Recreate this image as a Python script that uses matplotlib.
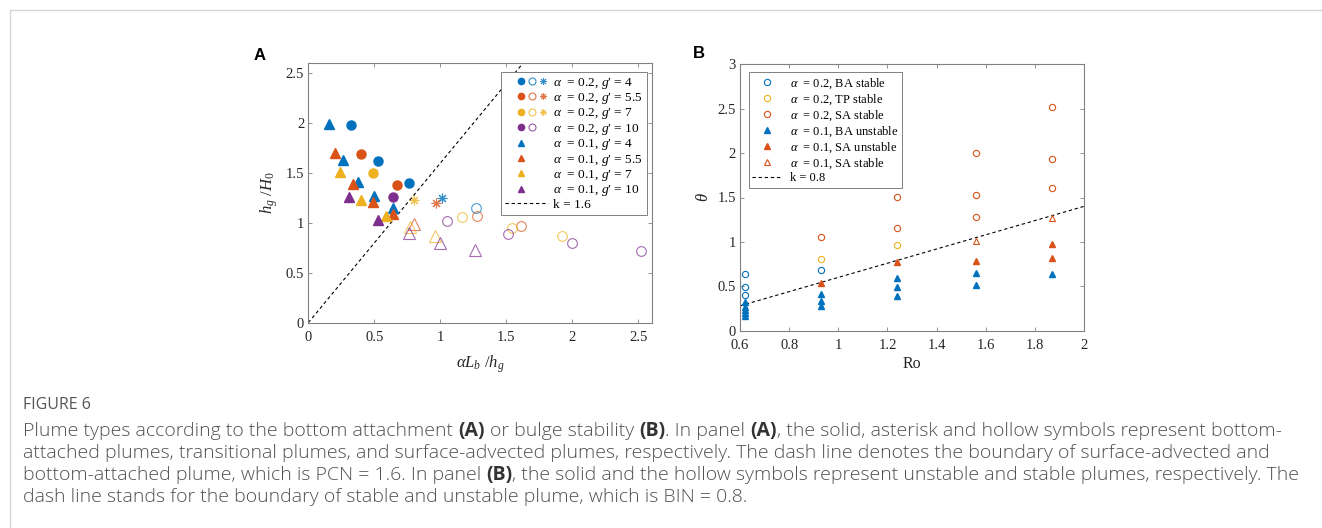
import matplotlib
matplotlib.use('Agg')
import matplotlib.pyplot as plt
import numpy as np
from matplotlib.lines import Line2D
from matplotlib.legend_handler import HandlerTuple
from matplotlib.ticker import FormatStrFormatter, MultipleLocator

# ---- panel A data (alpha*Lb/hg, hg/H0), one list per g' ----
g_labels = ['4', '5.5', '7', '10']
a02_bottom_x = [[0.32, 0.53, 0.76], [0.40, 0.67], [0.49], [0.64]]
a02_bottom_y = [[1.98, 1.62, 1.40], [1.69, 1.38], [1.50], [1.26]]
a02_trans_x = [[1.01], [0.97], [0.80], []]
a02_trans_y = [[1.25], [1.20], [1.23], []]
a02_surface_x = [[1.27], [1.28, 1.61], [1.16, 1.54, 1.92], [1.05, 1.51, 2.00, 2.52]]
a02_surface_y = [[1.15], [1.07, 0.97], [1.06, 0.95, 0.87], [1.02, 0.89, 0.80, 0.72]]
a01_bottom_x = [[0.16, 0.26, 0.38, 0.50, 0.64], [0.20, 0.34, 0.49, 0.64], [0.24, 0.40, 0.59], [0.31, 0.53]]
a01_bottom_y = [[1.99, 1.63, 1.41, 1.27, 1.15], [1.70, 1.39, 1.21, 1.09], [1.51, 1.23, 1.07], [1.26, 1.03]]
a01_surface_x = [[], [0.80], [0.77, 0.96], [0.76, 1.00, 1.26]]
a01_surface_y = [[], [0.99], [0.96, 0.87], [0.90, 0.80, 0.73]]
k_a = 1.6

# ---- panel B data (Ro, theta) ----
ba_stable_x = [0.62, 0.62, 0.62, 0.93]
ba_stable_y = [0.635, 0.49, 0.40, 0.68]
tp_stable_x = [0.93, 1.24]
tp_stable_y = [0.81, 0.965]
sa_stable02_x = [0.93, 1.24, 1.24, 1.56, 1.56, 1.56, 1.87, 1.87, 1.87]
sa_stable02_y = [1.055, 1.51, 1.16, 2.00, 1.53, 1.28, 2.52, 1.93, 1.61]
ba_unstable_x = [0.62, 0.62, 0.62, 0.62, 0.62, 0.93, 0.93, 0.93, 1.24, 1.24, 1.24, 1.56, 1.56, 1.87]
ba_unstable_y = [0.32, 0.27, 0.23, 0.20, 0.17, 0.41, 0.34, 0.28, 0.59, 0.49, 0.39, 0.65, 0.51, 0.64]
sa_unstable_x = [0.93, 1.24, 1.56, 1.87, 1.87]
sa_unstable_y = [0.535, 0.77, 0.78, 0.975, 0.815]
sa_stable01_x = [1.56, 1.87]
sa_stable01_y = [1.01, 1.27]
k_b = 0.8
b_offset = -0.2

colors = ['#0072BD', '#D95319', '#EDB120', '#7E2F8E']

plt.rcParams['font.family'] = ['Liberation Serif', 'DejaVu Serif']
plt.rcParams['mathtext.fontset'] = 'custom'
plt.rcParams['mathtext.rm'] = 'Liberation Serif'
plt.rcParams['mathtext.it'] = 'Liberation Serif:italic'
plt.rcParams['mathtext.bf'] = 'Liberation Serif:bold'

W, H = 1322, 528
fig = plt.figure(figsize=(W / 100, H / 100), dpi=100)

spine_c = '#808080'
text_c = '#262626'


def style_axes(ax):
    for s in ax.spines.values():
        s.set_color(spine_c)
        s.set_linewidth(0.8)
    ax.tick_params(direction='in', top=True, right=True, length=3, width=0.6,
                   color=spine_c, labelcolor=text_c, labelsize=10.5)
    ax.tick_params(axis='x', pad=6)
    ax.tick_params(axis='y', pad=3)
    ax.xaxis.set_major_formatter(FormatStrFormatter('%g'))
    ax.yaxis.set_major_formatter(FormatStrFormatter('%g'))


# ================= panel A =================
axA = fig.add_axes([308.3 / W, 1 - 322.7 / H, 343.4 / W, 259.4 / H])
blank = Line2D([], [], linestyle='none')
handlesA, labelsA = [], []
for i, c in enumerate(colors):
    axA.plot(a02_bottom_x[i], a02_bottom_y[i], 'o', color=c, ms=6.5, mec=c, zorder=3)
    axA.plot(a02_surface_x[i], a02_surface_y[i], 'o', mfc='none', mec=c, ms=7, mew=0.8, alpha=0.7)
    axA.plot(a02_trans_x[i], a02_trans_y[i], marker=(8, 2, 0), ls='none', color=c, ms=7, mew=0.8, alpha=0.8)
    axA.plot(a01_bottom_x[i], a01_bottom_y[i], '^', color=c, ms=7.5, mec=c, zorder=3)
    axA.plot(a01_surface_x[i], a01_surface_y[i], '^', mfc='none', mec=c, ms=8, mew=0.8, alpha=0.7)

xk = np.array([0, 2.6])
axA.plot(xk, k_a * xk, '--', color='k', lw=0.8, dashes=(3, 2.5))

for i, c in enumerate(colors):
    solid = Line2D([], [], marker='o', ls='none', color=c, ms=4.5)
    hollow = Line2D([], [], marker='o', ls='none', mfc='none', mec=c, ms=5, mew=0.8, alpha=0.8)
    star = Line2D([], [], marker=(8, 2, 0), ls='none', color=c, ms=5, mew=0.7, alpha=0.8)
    if a02_trans_x[i]:
        handlesA.append((blank, solid, hollow, star))
    else:
        handlesA.append((blank, solid, hollow, blank))
    labelsA.append(r'$\alpha$  = 0.2, $g$′ = ' + g_labels[i])
for i, c in enumerate(colors):
    tri = Line2D([], [], marker='^', ls='none', color=c, ms=5)
    handlesA.append((blank, tri, blank, blank))
    labelsA.append(r'$\alpha$  = 0.1, $g$′ = ' + g_labels[i])
handlesA.append(Line2D([], [], ls='--', color='k', lw=0.8, dashes=(3, 2.5)))
labelsA.append('k = 1.6')

legA = axA.legend(handlesA, labelsA, handler_map={tuple: HandlerTuple(ndivide=None, pad=0)},
                  loc='upper right', bbox_to_anchor=(0.985, 0.968), borderaxespad=0,
                  fontsize=9.6, handlelength=3.2, handletextpad=0.35, labelspacing=0.03,
                  borderpad=0.3, fancybox=False, framealpha=1, edgecolor=spine_c)
legA.get_frame().set_linewidth(0.7)

axA.set_xlim(0, 2.6)
axA.set_ylim(0, 2.6)
axA.xaxis.set_major_locator(MultipleLocator(0.5))
axA.yaxis.set_major_locator(MultipleLocator(0.5))
style_axes(axA)
axA.set_xlabel(r'$\alpha L_b\ /h_g$', fontsize=12, color=text_c, labelpad=7)
axA.set_ylabel(r'$h_g\ /H_0$', fontsize=12, color=text_c, labelpad=4)

# ================= panel B =================
axB = fig.add_axes([740 / W, 1 - 330.7 / H, 344 / W, 266.4 / H])
axB.plot(ba_unstable_x, ba_unstable_y, '^', color=colors[0], ms=5, label=r'$\alpha$  = 0.1, BA unstable', zorder=3)
axB.plot(sa_unstable_x, sa_unstable_y, '^', color=colors[1], ms=5, label=r'$\alpha$  = 0.1, SA unstable', zorder=3)
axB.plot(sa_stable01_x, sa_stable01_y, '^', mfc='none', mec=colors[1], ms=5, mew=0.8,
         label=r'$\alpha$  = 0.1, SA stable', zorder=3)
axB.plot(ba_stable_x, ba_stable_y, 'o', mfc='none', mec=colors[0], ms=4.5, mew=0.8,
         label=r'$\alpha$  = 0.2, BA stable')
axB.plot(tp_stable_x, tp_stable_y, 'o', mfc='none', mec=colors[2], ms=4.5, mew=0.8,
         label=r'$\alpha$  = 0.2, TP stable')
axB.plot(sa_stable02_x, sa_stable02_y, 'o', mfc='none', mec=colors[1], ms=4.5, mew=0.8,
         label=r'$\alpha$  = 0.2, SA stable')
xr = np.array([0.6, 2.0])
axB.plot(xr, k_b * xr + b_offset, '--', color='k', lw=0.8, dashes=(3, 2.5), label='k = 0.8')

h, l = axB.get_legend_handles_labels()
order = [3, 4, 5, 0, 1, 2, 6]
legB = axB.legend([h[j] for j in order], [l[j] for j in order],
                  loc='upper left', bbox_to_anchor=(0.025, 0.97), borderaxespad=0,
                  fontsize=9, handlelength=2.3, handletextpad=0.7, labelspacing=0.12,
                  borderpad=0.3, fancybox=False, framealpha=1, edgecolor=spine_c)
legB.get_frame().set_linewidth(0.7)

axB.set_xlim(0.6, 2.0)
axB.set_ylim(0, 3)
axB.xaxis.set_major_locator(MultipleLocator(0.2))
axB.yaxis.set_major_locator(MultipleLocator(0.5))
style_axes(axB)
axB.set_xlabel('Ro', fontsize=11.5, color=text_c, labelpad=3)
axB.set_ylabel(r'$\theta$', fontsize=12, color=text_c, labelpad=4)

# panel letters
fig.text(260 / W, 1 - 55 / H, 'A', family='Liberation Sans', weight='bold', fontsize=12,
         ha='center', va='center')
fig.text(699 / W, 1 - 54 / H, 'B', family='Liberation Sans', weight='bold', fontsize=12,
         ha='center', va='center')

# outer frame lines
fig.add_artist(Line2D([10 / W, 10 / W], [0, 1 - 10 / H], transform=fig.transFigure, color='#d6d6d6', lw=1))
fig.add_artist(Line2D([10 / W, 1], [1 - 10 / H, 1 - 10 / H], transform=fig.transFigure, color='#d6d6d6', lw=1))

# ================= caption =================
renderer = fig.canvas.get_renderer()
cap_font = 'Open Sans'
cap_color = '#505050'

caption_lines = [
    'Plume types according to the bottom attachment **(A)** or bulge stability **(B)**. In panel **(A)**, '
    'the solid, asterisk and hollow symbols represent bottom-',
    'attached plumes, transitional plumes, and surface-advected plumes, respectively. The dash line denotes '
    'the boundary of surface-advected and',
    'bottom-attached plume, which is PCN = 1.6. In panel **(B)**, the solid and the hollow symbols represent '
    'unstable and stable plumes, respectively. The',
    'dash line stands for the boundary of stable and unstable plume, which is BIN = 0.8.',
]
baselines = [436, 458, 480, 502]


def text_w(s, size, weight='light'):
    t = fig.text(0, 0, s, family=cap_font, fontsize=size, weight=weight)
    w = t.get_window_extent(renderer).width
    t.remove()
    return w


def rich_line(x, y, line, size, draw=True):
    sp = text_w('a a', size) - text_w('aa', size)
    x0 = x
    for i, part in enumerate(line.split('**')):
        if not part:
            continue
        weight = 'bold' if i % 2 else 'light'
        lead = len(part) - len(part.lstrip(' '))
        trail = len(part) - len(part.rstrip(' '))
        x += lead * sp
        t = fig.text(x / W, 1 - y / H, part.strip(' '), family=cap_font, fontsize=size,
                     weight=weight, color='#333333' if weight == 'bold' else cap_color,
                     va='baseline')
        x = t.get_window_extent(renderer).x1 + trail * sp
        if not draw:
            t.remove()
    return x - x0


test = 10
wtest = rich_line(23, 0, caption_lines[2], test, draw=False)
cap_size = test * (1297 - 23) / wtest

fig.text(23 / W, 1 - 409 / H, 'FIGURE 6', family=cap_font, fontsize=cap_size * 0.82,
         color='#555555', va='baseline')
for line, yb in zip(caption_lines, baselines):
    rich_line(23, yb, line, cap_size)

fig.savefig('out.png', dpi=100)
